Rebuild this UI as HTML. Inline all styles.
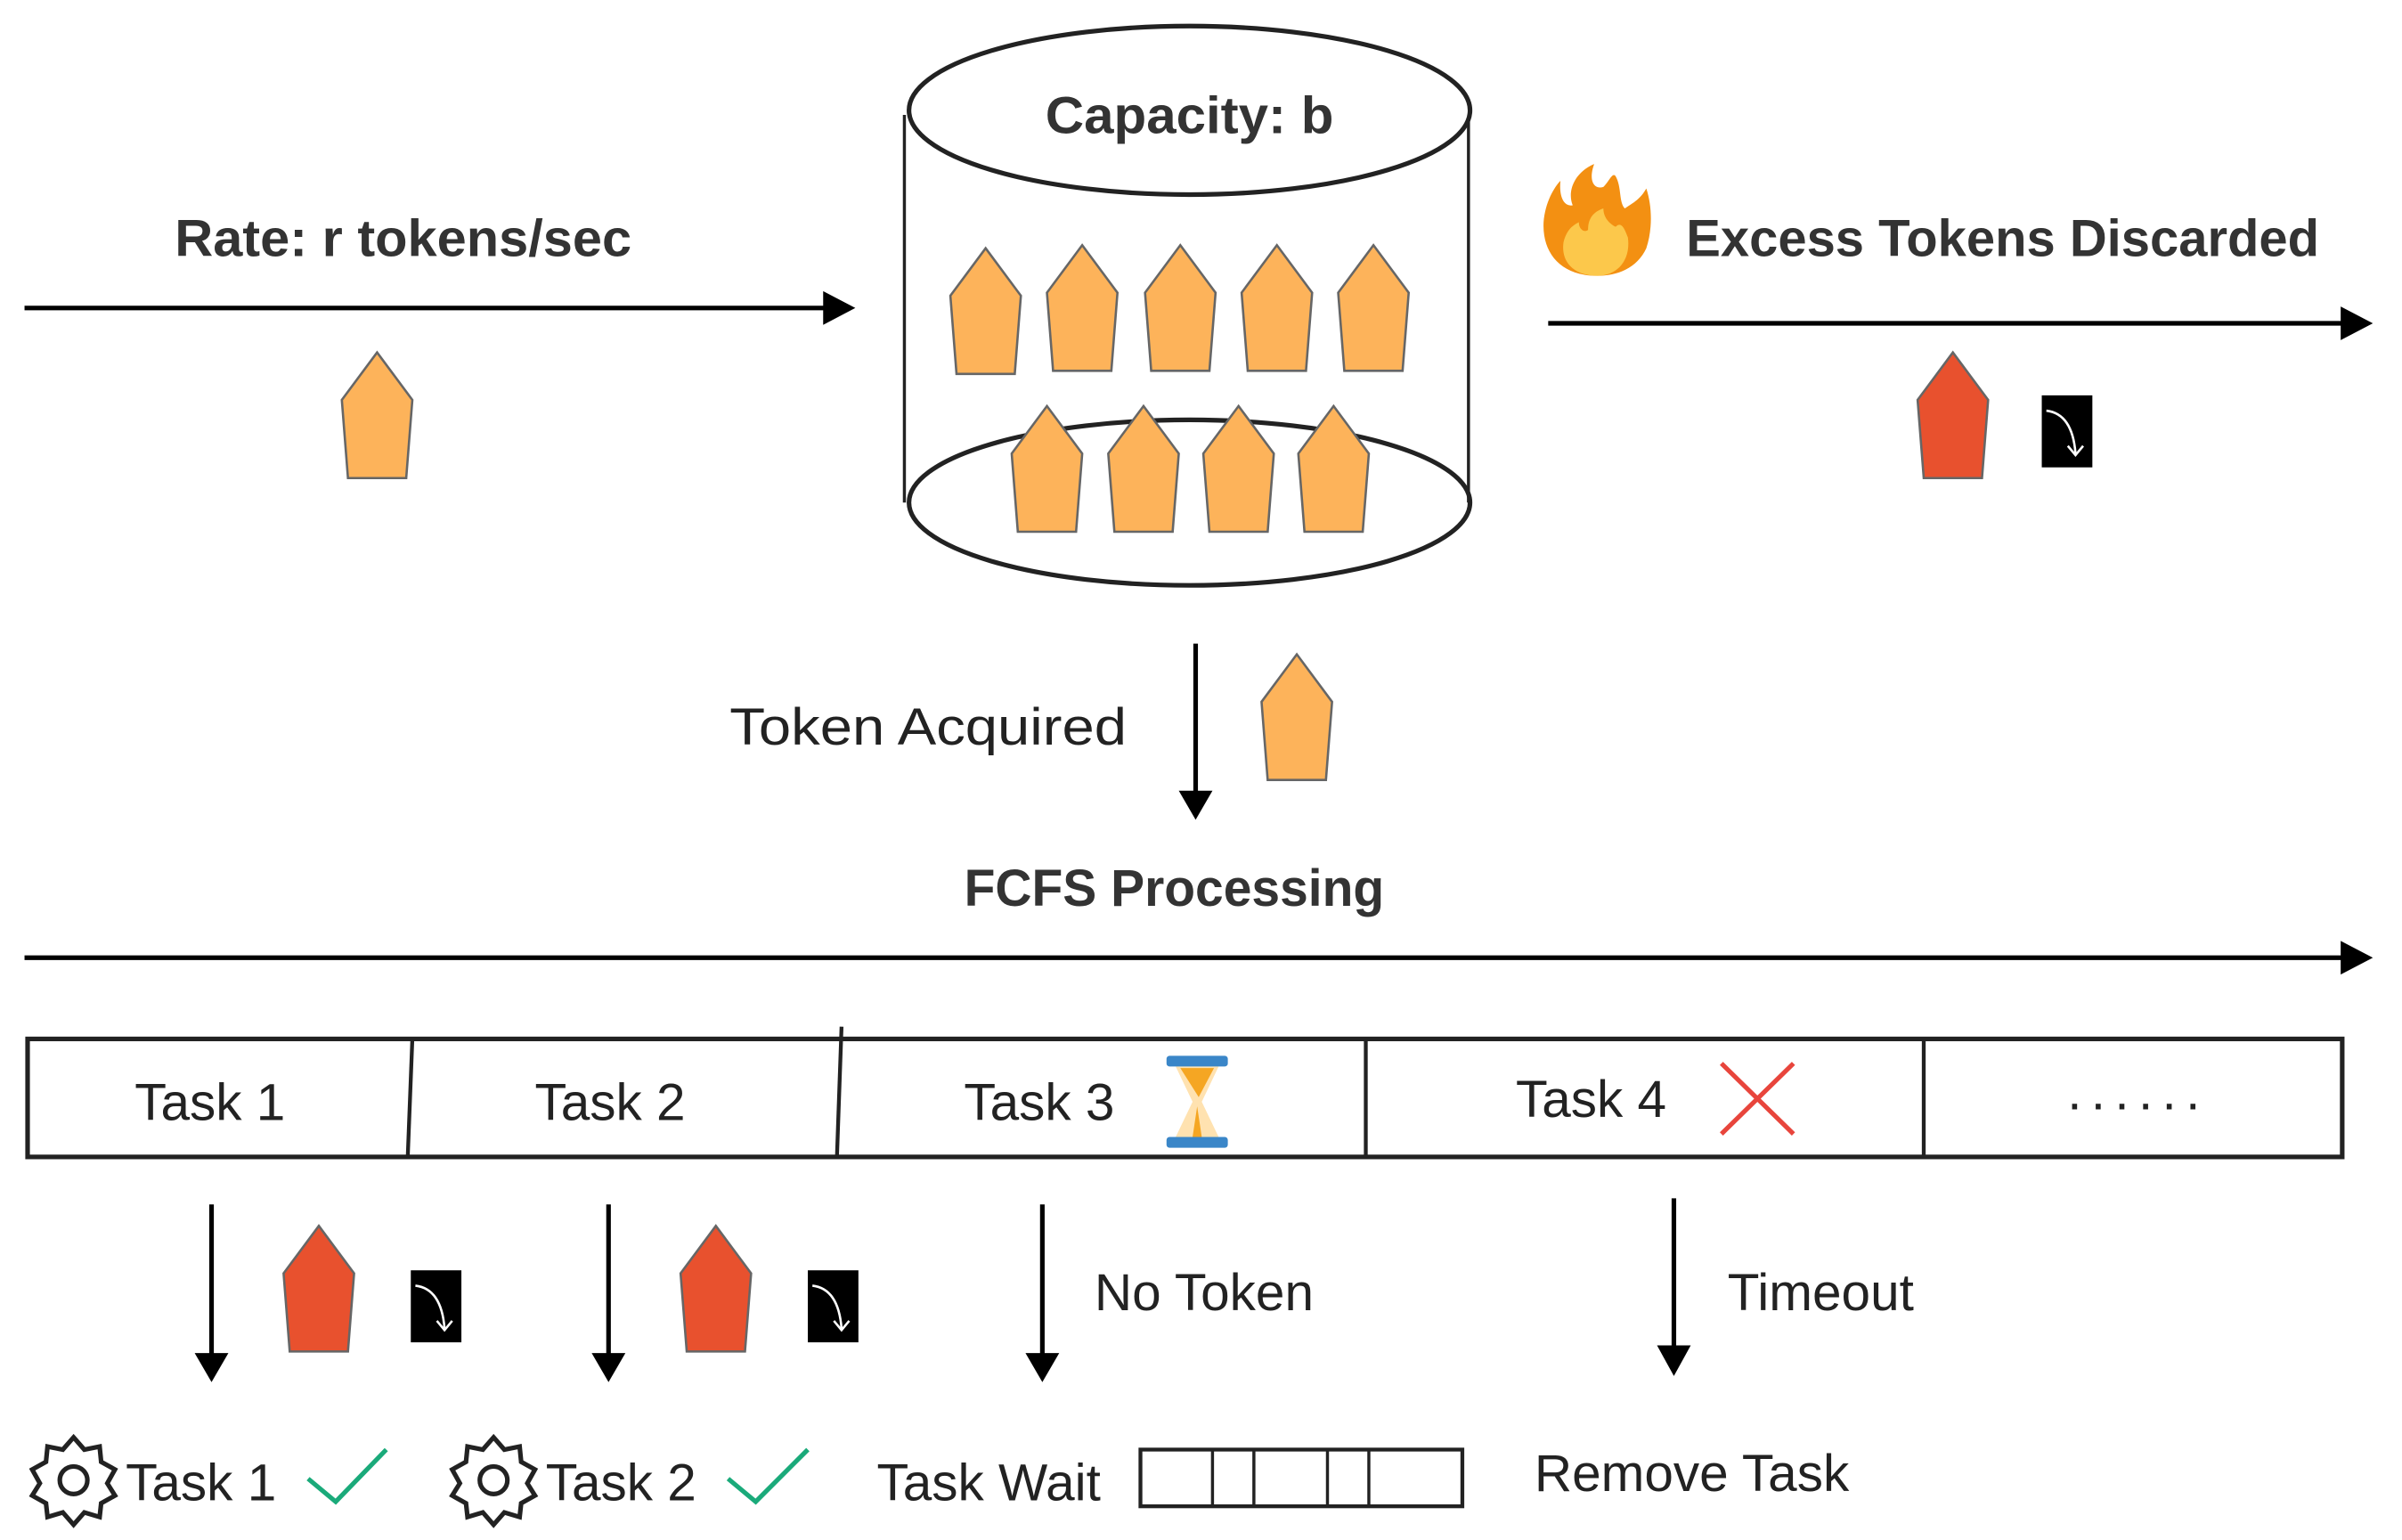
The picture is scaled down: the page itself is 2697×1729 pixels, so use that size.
<!DOCTYPE html>
<html><head><meta charset="utf-8"><style>
html,body{margin:0;padding:0;background:#fff}
svg{display:block}
text{font-family:"Liberation Sans",sans-serif;fill:#333}
.b{font-weight:bold;font-size:34px}
.n{font-size:34px;fill:#222}
</style></head><body>
<svg width="2697" height="1729" viewBox="0 0 1567 1005" preserveAspectRatio="none" xmlns="http://www.w3.org/2000/svg">
<defs>
<polygon id="po" points="23,0 46,31 42,82 4,82 0,31" fill="#FDB35A" stroke="#666" stroke-width="1.5"/>
<polygon id="pr" points="23,0 46,31 42,82 4,82 0,31" fill="#E8512E" stroke="#666" stroke-width="1.5"/>
<g id="bx"><rect x="0" y="0" width="33" height="47" fill="#000"/><path d="M3,10 Q20,12 22,38" stroke="#fff" stroke-width="1.5" fill="none"/><path d="M17,33 L22,39 L27,33" stroke="#fff" stroke-width="1.5" fill="none"/></g>
<g id="gear"><path d="M0,-28 L7,-20 L17,-22 L18,-12 L27,-7 L22,2 L27,10 L18,15 L17,24 L7,21 L0,29 L-7,21 L-17,24 L-18,15 L-27,10 L-22,2 L-27,-7 L-18,-12 L-17,-22 L-7,-20 Z" fill="none" stroke="#222" stroke-width="3"/><circle r="9" fill="none" stroke="#222" stroke-width="3"/></g>
</defs>

<text class="b" x="263" y="167" text-anchor="middle" textLength="298" lengthAdjust="spacingAndGlyphs">Rate: r tokens/sec</text>
<line x1="16" y1="201" x2="540" y2="201" stroke="#000" stroke-width="3"/>
<path d="M537,190 L558,201 L537,212 z" fill="#000"/>
<use href="#po" x="223" y="230"/>

<line x1="590" y1="75" x2="590" y2="328" stroke="#222" stroke-width="2"/>
<line x1="958" y1="75" x2="958" y2="328" stroke="#222" stroke-width="2"/>
<ellipse cx="776" cy="328" rx="183" ry="54" fill="none" stroke="#222" stroke-width="3"/>
<ellipse cx="776" cy="72" rx="183" ry="55" fill="#fff" stroke="#222" stroke-width="3"/>
<text class="b" x="776" y="87" text-anchor="middle" textLength="188" lengthAdjust="spacingAndGlyphs">Capacity: b</text>
<use href="#po" x="620" y="162"/><use href="#po" x="683" y="160"/><use href="#po" x="747" y="160"/><use href="#po" x="810" y="160"/><use href="#po" x="873" y="160"/>
<use href="#po" x="660" y="265"/><use href="#po" x="723" y="265"/><use href="#po" x="785" y="265"/><use href="#po" x="847" y="265"/>

<path d="M1042,180 C1018,180 1006,165 1007,145 C1008,132 1014,122 1018,118 C1017,128 1020,135 1026,134 C1022,124 1028,112 1040,107 C1036,118 1040,124 1046,122 C1050,118 1052,112 1054,115 C1058,122 1056,132 1060,136 C1066,132 1070,130 1074,123 C1078,135 1078,150 1074,162 C1068,175 1055,180 1042,180 Z" fill="#F39012"/>
<path d="M1042,180 C1028,180 1018,172 1020,158 C1022,150 1026,147 1030,145 C1030,150 1034,152 1036,150 C1036,142 1040,138 1046,136 C1046,142 1050,146 1054,148 C1058,144 1060,150 1062,155 C1064,170 1055,180 1042,180 Z" fill="#FCC84B"/>
<text class="b" x="1100" y="167" textLength="413" lengthAdjust="spacingAndGlyphs">Excess Tokens Discarded</text>
<line x1="1010" y1="211" x2="1530" y2="211" stroke="#000" stroke-width="3"/>
<path d="M1527,200 L1548,211 L1527,222 z" fill="#000"/>
<use href="#pr" x="1251" y="230"/>
<use href="#bx" x="1332" y="258"/>

<line x1="780" y1="420" x2="780" y2="518" stroke="#000" stroke-width="3"/>
<path d="M769,516 L780,535 L791,516 z" fill="#000"/>
<text class="n" x="735" y="486" text-anchor="end" textLength="259" lengthAdjust="spacingAndGlyphs">Token Acquired</text>
<use href="#po" x="823" y="427"/>

<text class="b" x="766" y="591" text-anchor="middle" textLength="274" lengthAdjust="spacingAndGlyphs">FCFS Processing</text>
<line x1="16" y1="625" x2="1530" y2="625" stroke="#000" stroke-width="3"/>
<path d="M1527,614 L1548,625 L1527,636 z" fill="#000"/>

<rect x="18" y="678" width="1510" height="77" fill="none" stroke="#222" stroke-width="3"/>
<line x1="269" y1="678" x2="266" y2="755" stroke="#222" stroke-width="2.5"/>
<line x1="549" y1="670" x2="546" y2="755" stroke="#222" stroke-width="2.5"/>
<line x1="891" y1="678" x2="891" y2="755" stroke="#222" stroke-width="2.5"/>
<line x1="1255" y1="678" x2="1255" y2="755" stroke="#222" stroke-width="2.5"/>
<text class="n" x="137" y="731" text-anchor="middle">Task 1</text>
<text class="n" x="398" y="731" text-anchor="middle">Task 2</text>
<text class="n" x="678" y="731" text-anchor="middle">Task 3</text>
<text class="n" x="1038" y="729" text-anchor="middle">Task 4</text>
<text class="n" x="1395" y="724" text-anchor="middle" letter-spacing="6">......</text>
<path d="M767,696 L795,696 L784,719 L795,742 L767,742 L778,719 Z" fill="#FFE2B0"/>
<path d="M770,697 L792,697 L782,716 Z M781,722 L784,742 L778,742 Z" fill="#F5A623"/>
<rect x="761" y="689" width="40" height="7" rx="2" fill="#3A86C8"/>
<rect x="761" y="742" width="40" height="7" rx="2" fill="#3A86C8"/>
<path d="M1123,694 L1170,740 M1170,694 L1123,740" stroke="#E8453C" stroke-width="3"/>

<g stroke="#000" stroke-width="3">
<line x1="138" y1="786" x2="138" y2="885"/><line x1="397" y1="786" x2="397" y2="885"/>
<line x1="680" y1="786" x2="680" y2="885"/><line x1="1092" y1="782" x2="1092" y2="880"/>
</g>
<path d="M127,883 L138,902 L149,883 z M386,883 L397,902 L408,883 z M669,883 L680,902 L691,883 z M1081,878 L1092,898 L1103,878 z" fill="#000"/>
<use href="#pr" x="185" y="800"/><use href="#bx" x="268" y="829"/>
<use href="#pr" x="444" y="800"/><use href="#bx" x="527" y="829"/>
<text class="n" x="714" y="855">No Token</text>
<text class="n" x="1127" y="855">Timeout</text>

<use href="#gear" x="48" y="966"/>
<text class="n" x="82" y="979">Task 1</text>
<path d="M201,965 L219,980 L252,946" fill="none" stroke="#1AAA7A" stroke-width="3"/>
<use href="#gear" x="322" y="966"/>
<text class="n" x="356" y="979">Task 2</text>
<path d="M475,965 L493,980 L527,946" fill="none" stroke="#1AAA7A" stroke-width="3"/>
<text class="n" x="572" y="979">Task Wait</text>
<rect x="744" y="946" width="210" height="37" fill="none" stroke="#222" stroke-width="2.5"/>
<g stroke="#222" stroke-width="2"><line x1="791" y1="946" x2="791" y2="983"/><line x1="818" y1="946" x2="818" y2="983"/><line x1="866" y1="946" x2="866" y2="983"/><line x1="893" y1="946" x2="893" y2="983"/></g>
<text class="n" x="1001" y="973">Remove Task</text>
</svg>
</body></html>
